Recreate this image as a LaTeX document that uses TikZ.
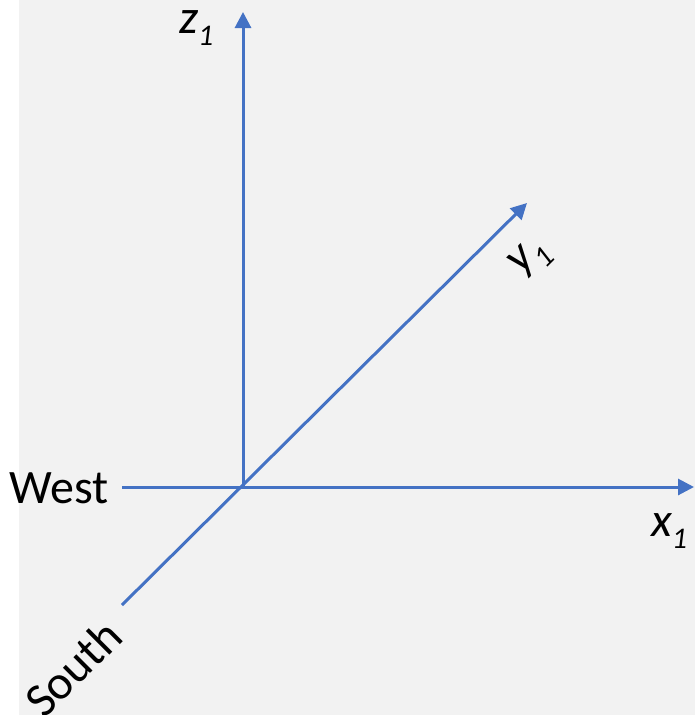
\documentclass[tikz,border=0pt]{standalone}
\usepackage{fontspec}
\setmainfont{Carlito}
\usetikzlibrary{arrows.meta}
\definecolor{axisblue}{HTML}{4472C4}
\definecolor{bggray}{HTML}{F2F2F2}
\newcommand\subone{\raisebox{-0.26em}{\fontsize{30}{30}\selectfont 1}}
\begin{document}
\begin{tikzpicture}[x=1pt,y=-1pt,
  axis/.style={draw=axisblue,line width=3pt},
  axarrow/.style={axis,-{Triangle[length=16pt,width=16pt]}},
  lbl/.style={inner sep=0pt,font=\fontsize{48}{48}\selectfont}]
\useasboundingbox (0,0) rectangle (695,715);
\fill[bggray] (19,0) rectangle (695,715);
\coordinate (O) at (243,487);
\coordinate (ztip) at (243,12);
\coordinate (xstart) at (122,487);
\coordinate (xtip) at (694,487);
\coordinate (ystart) at (122,605);
\coordinate (ytip) at (527,203);
\draw[axarrow] (O) -- (ztip);
\draw[axarrow] (xstart) -- (xtip);
\draw[axarrow] (ystart) -- (ytip);
\node[lbl,anchor=base west] (zl) at (179,33) {\itshape z\subone};
\node[lbl,anchor=base west] (xl) at (651,536) {\itshape x\subone};
\node[lbl,rotate=45] (yl) at (531,259) {\itshape y\subone};
\node[lbl,anchor=base west] (west) at (9,503) {West};
\node[lbl,rotate=45] (south) at (73,668) {South};
\end{tikzpicture}
\end{document}
